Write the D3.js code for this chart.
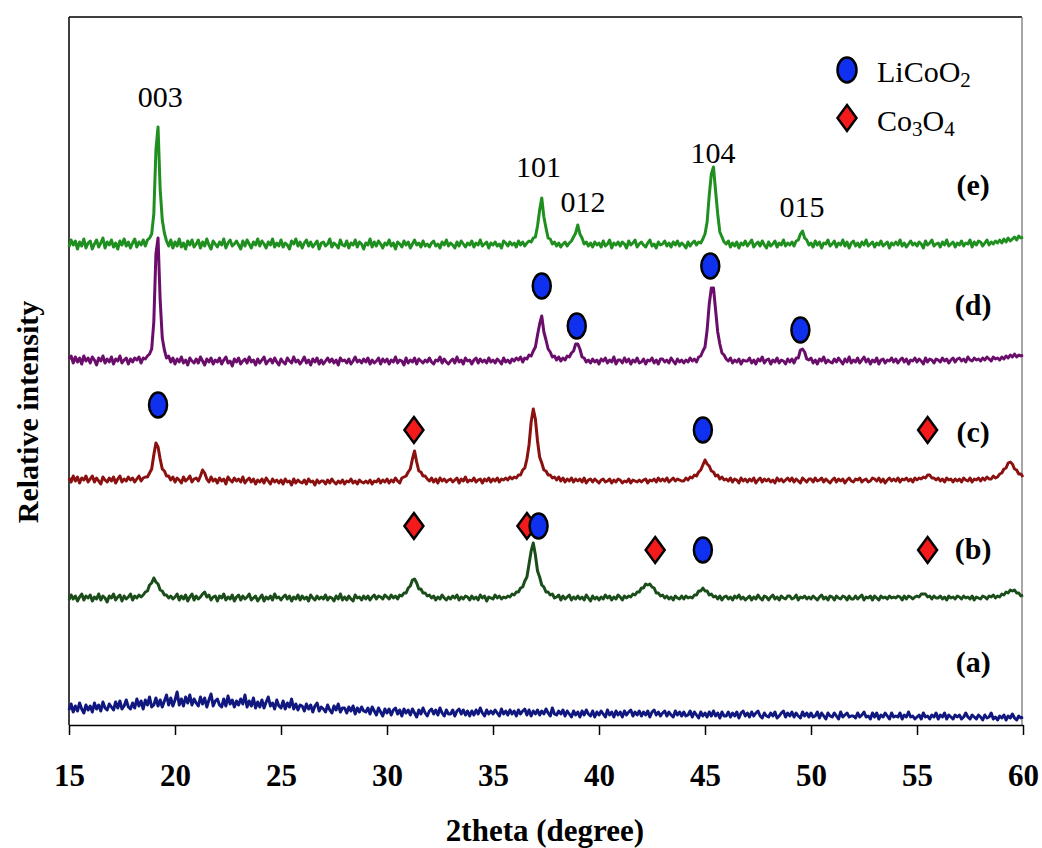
<!DOCTYPE html>
<html>
<head>
<meta charset="utf-8">
<script src="https://cdn.jsdelivr.net/npm/d3@7"></script>
<style>
  body { margin: 0; background: #fff; }
  text { font-family: "Times New Roman", "Liberation Serif", serif; fill: #000; }
</style>
</head>
<body>
<svg width="1042" height="848"></svg>
<script>
// 2theta grid of the scans: 15 to 60 deg, one reading every 0.1 deg
var thetaStart = 15, thetaStep = 0.1;
var xTicks = [15, 20, 25, 30, 35, 40, 45, 50, 55, 60];

// intensities, one row per degree
var sampleA = [
  15,21,13,19,14,22,16,12,20,15,
  19,13,22,16,20,14,23,17,15,21,
  18,15,23,17,24,16,19,25,18,16,
  22,17,26,19,24,16,25,20,28,18,
  20,27,19,25,18,24,30,20,27,19,
  25,33,20,26,19,28,22,30,20,26,
  22,19,28,21,27,18,25,31,19,24,
  26,20,18,26,19,29,21,25,18,24,
  20,26,21,30,18,24,19,27,17,23,
  18,25,17,23,28,19,22,16,25,19,
  17,24,16,22,18,26,16,21,15,20,
  19,14,21,16,20,13,19,22,14,18,
  16,13,20,15,12,19,15,21,13,17,
  17,12,18,14,19,11,17,13,18,14,
  13,17,11,18,14,10,17,13,9,16,
  12,16,10,15,17,11,15,9,16,12,
  15,10,16,12,8,15,11,17,12,9,
  14,16,11,15,10,17,12,9,15,11,
  11,15,9,14,16,11,15,10,14,9,
  14,10,15,11,17,12,9,15,11,14,
  11,15,12,9,16,11,14,10,15,11,
  14,9,15,11,14,16,10,15,9,14,
  11,15,10,14,11,16,12,9,17,11,
  10,14,11,15,9,14,11,8,14,10,
  13,8,14,10,15,11,9,14,8,13,
  10,14,11,8,15,10,13,8,14,10,
  13,8,14,10,13,15,9,13,10,14,
  9,13,10,14,8,13,15,10,13,9,
  12,14,9,13,10,8,14,10,13,9,
  13,9,10,14,8,13,10,7,13,9,
  12,8,13,9,14,9,12,7,13,9,
  9,13,8,12,9,13,7,12,14,9,
  12,8,13,9,12,14,9,7,12,9,
  8,12,9,13,7,9,12,14,8,12,
  9,13,8,12,9,7,13,9,12,8,
  12,8,9,13,7,12,9,6,12,9,
  8,12,9,6,13,8,10,12,8,9,
  9,7,12,8,10,13,8,9,6,12,
  8,12,6,10,8,12,9,6,12,8,
  9,8,12,6,10,8,13,8,9,6,
  8,10,6,12,8,9,6,10,8,12,
  6,10,8,12,6,10,8,6,10,8,
  10,6,8,12,8,6,10,8,6,10,
  8,5,10,7,8,12,6,8,5,9,
  7,10,5,9,7,11,7,5,9,7,
  8
];

var sampleB = [
  9,14,10,13,8,12,15,9,13,11,
  14,8,12,10,15,9,13,11,7,13,
  11,15,9,12,14,8,13,10,12,15,
  9,13,11,14,12,14,17,18,24,26,
  31,27,25,19,18,14,14,11,13,10,
  12,15,9,13,10,14,8,12,15,9,
  13,10,12,15,17,12,14,9,12,13,
  8,13,11,15,9,12,10,14,8,12,
  14,9,13,10,12,15,9,11,13,8,
  11,14,8,12,10,13,9,15,11,12,
  9,12,14,10,13,8,12,10,14,9,
  13,10,12,8,14,11,9,13,10,12,
  10,14,9,12,11,8,13,10,15,9,
  12,9,13,10,8,14,11,12,9,13,
  10,13,9,12,14,10,13,12,10,14,
  12,10,14,11,13,10,14,13,16,16,
  21,23,29,30,26,20,20,16,16,13,
  14,11,13,9,12,10,14,11,9,12,
  10,13,11,14,9,12,10,13,12,9,
  13,10,12,9,14,11,13,8,12,11,
  10,14,11,13,10,12,11,13,12,15,
  14,17,17,21,22,28,32,45,58,66,
  54,38,32,24,22,17,17,14,15,11,
  12,14,9,13,10,12,14,9,12,10,
  13,10,12,9,14,11,8,13,10,12,
  9,12,10,14,11,13,9,12,10,14,
  12,9,13,11,13,12,15,14,17,17,
  21,21,25,24,25,22,21,16,16,13,
  14,11,13,10,12,9,13,11,10,13,
  10,13,11,12,11,14,14,18,18,21,
  18,18,14,15,12,13,10,13,9,12,
  13,10,12,9,13,11,14,10,12,9,
  11,13,9,12,10,14,11,9,13,12,
  9,12,14,10,12,9,13,11,10,13,
  13,10,11,14,9,12,11,13,10,12,
  10,13,11,9,12,14,10,12,9,13,
  12,9,13,11,10,13,12,9,13,10,
  10,13,10,12,14,9,12,11,13,9,
  13,11,9,13,11,12,10,13,11,12,
  11,13,12,9,13,10,13,12,10,12,
  13,12,15,15,15,12,13,10,13,11,
  11,13,10,12,9,13,11,12,10,13,
  12,10,13,11,12,10,13,9,12,11,
  10,13,12,10,13,12,14,11,13,12,
  15,14,17,16,19,18,19,16,16,13,
  14
];

var sampleC = [
  13,9,15,10,14,8,13,11,15,9,
  12,15,9,13,10,7,14,11,9,13,
  10,14,8,12,15,9,12,10,14,11,
  13,9,12,15,10,13,14,14,18,22,
  36,48,44,32,22,20,15,15,11,14,
  9,13,11,8,14,10,12,15,9,12,
  13,10,15,21,18,12,9,14,10,12,
  8,13,10,12,7,14,11,9,13,10,
  12,9,14,8,11,13,9,12,7,11,
  9,12,8,13,10,7,12,9,11,8,
  11,7,12,9,10,6,12,8,11,9,
  8,11,7,12,9,10,6,11,8,10,
  10,7,11,8,12,9,7,10,8,11,
  7,10,9,12,8,10,7,11,9,8,
  10,8,11,7,10,9,12,8,11,9,
  12,8,11,9,13,10,8,13,14,15,
  19,22,32,40,29,20,19,15,15,12,
  10,13,9,12,8,13,10,12,9,11,
  12,9,11,13,8,12,10,14,9,11,
  10,13,9,11,12,8,12,10,13,9,
  12,10,13,9,12,11,13,11,14,12,
  14,13,16,16,21,23,32,46,69,82,
  72,50,34,28,21,20,16,16,13,14,
  11,14,10,13,9,12,10,13,9,12,
  10,12,9,13,8,11,12,9,12,10,
  8,11,12,9,10,12,8,11,9,12,
  11,8,10,9,12,8,11,10,9,11,
  9,11,12,8,11,10,12,9,13,10,
  12,10,13,9,11,13,10,12,11,10,
  10,13,11,14,13,16,15,19,21,26,
  31,27,25,20,19,15,16,12,14,11,
  12,10,13,9,12,11,8,13,10,12,
  9,12,10,13,8,11,13,9,12,10,
  12,9,11,8,13,10,12,9,11,13,
  10,13,9,12,10,8,13,11,9,12,
  12,9,13,10,11,13,9,12,10,8,
  11,13,9,12,10,12,8,11,13,10,
  9,12,11,13,9,11,12,9,10,13,
  12,10,13,9,12,8,11,13,10,12,
  10,13,9,12,11,13,10,12,9,13,
  11,13,12,14,13,16,16,13,13,11,
  13,10,12,9,13,11,12,9,12,10,
  12,9,13,11,10,13,9,12,11,13,
  10,13,11,14,12,12,15,13,14,17,
  18,22,23,28,29,27,22,21,17,17,
  14
];

var sampleD = [
  13,16,9,15,10,14,8,16,11,14,
  9,15,12,7,14,11,16,9,13,10,
  15,8,13,11,16,9,12,14,8,13,
  10,14,12,15,9,14,13,16,18,23,
  50,118,134,72,34,22,14,16,10,14,
  8,13,10,15,9,12,7,14,11,9,
  13,9,15,11,7,13,10,14,8,12,
  10,14,8,12,15,9,11,6,13,10,
  14,8,11,13,9,15,10,12,7,13,
  9,12,15,8,11,13,9,14,10,7,
  13,10,8,14,11,9,15,10,12,8,
  11,15,9,12,7,13,10,14,8,12,
  8,11,14,10,13,9,12,7,14,11,
  12,9,13,8,11,15,10,12,9,13,
  10,14,8,12,9,11,14,8,13,10,
  13,8,12,10,15,9,12,11,7,14,
  9,12,10,14,8,13,11,9,12,10,
  14,10,8,12,11,15,9,13,10,8,
  11,13,9,15,10,12,8,14,11,12,
  8,12,14,9,13,10,12,9,14,10,
  12,9,13,11,8,14,10,12,9,13,
  11,14,12,15,10,14,13,17,16,21,
  25,37,48,56,40,32,23,20,15,16,
  12,15,11,14,12,16,15,19,21,28,
  28,23,15,14,10,12,9,13,10,12,
  8,13,11,14,9,12,10,15,8,12,
  12,9,14,10,13,8,12,10,14,9,
  10,13,8,12,11,14,9,12,8,13,
  13,10,12,9,14,11,8,13,10,12,
  9,12,10,14,11,13,10,15,16,21,
  25,42,68,84,84,62,40,28,19,17,
  13,11,14,9,12,10,13,8,12,11,
  11,14,9,12,8,13,11,15,9,12,
  13,8,12,10,14,9,12,11,8,13,
  10,13,9,14,14,22,23,20,13,12,
  14,9,12,8,13,11,15,9,12,10,
  9,13,10,14,11,8,13,10,15,9,
  12,10,14,9,12,15,10,13,8,12,
  10,14,8,12,13,9,12,11,14,10,
  13,9,12,14,10,13,8,12,11,14,
  10,13,11,8,14,10,13,12,9,13,
  12,10,14,11,13,9,12,14,10,13,
  14,11,13,10,15,12,11,14,12,13,
  11,14,12,15,13,11,15,13,14,12,
  15,13,16,14,17,15,18,15,17,16,
  17
];

var sampleE = [
  8,15,10,14,6,13,9,16,7,12,
  14,6,11,15,8,12,17,7,13,10,
  15,8,12,6,14,10,16,9,13,7,
  12,16,8,13,10,15,9,15,17,21,
  41,105,128,66,35,22,14,9,15,7,
  13,9,16,8,12,6,14,10,15,8,
  11,15,7,13,9,16,10,6,14,11,
  8,13,10,16,7,12,15,9,11,14,
  10,6,14,9,15,11,7,13,10,16,
  9,14,11,7,13,10,16,8,12,9,
  15,8,12,10,6,14,11,16,9,13,
  7,12,15,9,13,8,11,14,6,12,
  13,9,11,16,8,12,10,7,15,10,
  9,14,7,12,10,15,8,13,11,6,
  12,10,16,8,13,9,14,11,7,12,
  10,15,9,12,6,13,11,8,14,10,
  13,7,11,15,10,12,8,14,9,11,
  8,12,14,9,11,7,13,10,15,9,
  12,10,7,13,9,14,11,8,12,10,
  14,8,12,10,15,9,11,13,7,12,
  10,13,9,11,7,14,12,9,13,10,
  12,8,14,10,13,9,12,14,13,17,
  18,29,45,57,38,27,17,16,11,13,
  9,12,8,11,13,9,12,14,18,22,
  30,21,17,11,13,9,12,8,13,10,
  12,8,14,9,11,15,7,12,10,13,
  9,13,11,7,14,10,12,15,8,11,
  13,10,8,12,15,9,11,7,13,10,
  11,14,9,12,8,13,10,14,9,12,
  10,7,13,9,12,14,10,13,12,16,
  21,33,60,81,88,64,41,23,18,13,
  11,14,8,12,9,13,7,12,10,14,
  9,12,15,8,11,13,9,14,10,7,
  13,9,11,14,8,12,10,15,9,12,
  10,13,9,14,15,21,24,17,15,10,
  12,8,14,10,13,7,12,11,15,9,
  11,14,8,12,10,15,9,13,7,12,
  14,9,12,8,13,10,15,9,11,13,
  8,12,10,14,9,11,13,7,12,10,
  13,10,15,9,12,8,11,14,10,12,
  9,13,11,7,14,10,12,15,9,11,
  12,8,13,10,15,9,11,13,8,12,
  10,14,9,12,11,15,8,13,10,14,
  13,9,12,15,10,13,11,14,12,15,
  12,16,13,17,14,16,18,15,19,17,
  18
];

var samples = [sampleA, sampleB, sampleC, sampleD, sampleE];
var sampleNames = ['(a)', '(b)', '(c)', '(d)', '(e)'];
var stackOffset = [0, 116, 234, 353, 470];
var sampleColors = ['#10187f', '#1a4d1a', '#8b1010', '#6b0d6b', '#1f8f1f'];
// where each (a)..(e) tag sits, in 2theta / intensity units
var nameAt = [[57.65, 53], [57.65, 166], [57.65, 283], [57.65, 410], [57.65, 530]];

// reflection indices written over pattern (e)
var hklText = ['003', '101', '012', '104', '015'];
var hklTheta = [19.3, 37.15, 39.25, 45.38, 49.58];
var hklLevel = [618, 548, 513, 562, 508];

// phase markers [2theta, level]
var licoo2Marks = [[19.2, 320], [44.9, 295], [37.15, 199], [44.9, 175],
                   [37.3, 439], [38.95, 399], [45.25, 459], [49.5, 395]];
var co3o4Marks = [[31.27, 295], [55.5, 295], [31.27, 199], [36.6, 199],
                  [42.65, 175], [55.5, 175]];

var svg = d3.select('svg');
var plotLeft = 69, plotRight = 1023, plotTop = 17, plotBottom = 725;

var x = d3.scaleLinear().domain([15, 60]).range([plotLeft, plotRight]);
var y = d3.scaleLinear().domain([0, 708]).range([plotBottom, plotTop]);

// frame
svg.append('line').attr('x1', plotLeft).attr('x2', plotRight - 1).attr('y1', plotTop).attr('y2', plotTop)
  .attr('stroke', '#000').attr('stroke-width', 1.5);
svg.append('line').attr('x1', plotLeft).attr('x2', plotLeft).attr('y1', plotTop).attr('y2', plotBottom)
  .attr('stroke', '#000').attr('stroke-width', 1.5);
svg.append('line').attr('x1', plotRight - 1).attr('x2', plotRight - 1).attr('y1', plotTop).attr('y2', plotBottom)
  .attr('stroke', '#888').attr('stroke-width', 1.5);

// curves
samples.forEach(function(values, k) {
  var line = d3.line()
    .x(function(d, i) { return x(thetaStart + i * thetaStep); })
    .y(function(d) { return y(d + stackOffset[k]); });
  svg.append('path')
    .datum(values)
    .attr('d', line)
    .attr('fill', 'none')
    .attr('stroke', sampleColors[k])
    .attr('stroke-width', 3)
    .attr('stroke-linejoin', 'round');
});

// x axis
var xAxis = svg.append('g')
  .attr('transform', 'translate(0,' + plotBottom + ')')
  .call(d3.axisBottom(x).tickValues(xTicks).tickFormat(d3.format('d'))
    .tickSize(10).tickSizeOuter(0).tickPadding(29));
xAxis.select('.domain').attr('stroke', '#000').attr('stroke-width', 1.5);
xAxis.selectAll('.tick line').attr('stroke', '#000').attr('stroke-width', 1.5);
xAxis.selectAll('.tick text')
  .attr('fill', '#000')
  .style('font-family', '"Times New Roman", "Liberation Serif", serif')
  .style('font-size', '31px')
  .style('font-weight', 'bold');

svg.append('text')
  .attr('x', 545).attr('y', 841)
  .attr('text-anchor', 'middle')
  .style('font-size', '31px').style('font-weight', 'bold')
  .text('2theta (degree)');

svg.append('text')
  .attr('transform', 'translate(38,412) rotate(-90)')
  .attr('text-anchor', 'middle')
  .style('font-size', '30px').style('font-weight', 'bold')
  .text('Relative intensity');

// hkl labels
svg.selectAll('.hkl')
  .data(hklText)
  .enter()
  .append('text')
  .attr('class', 'hkl')
  .attr('x', function(d, i) { return x(hklTheta[i]); })
  .attr('y', function(d, i) { return y(hklLevel[i]); })
  .attr('text-anchor', 'middle')
  .style('font-size', '30px')
  .text(function(d) { return d; });

// sample tags
svg.selectAll('.tag')
  .data(sampleNames)
  .enter()
  .append('text')
  .attr('class', 'tag')
  .attr('x', function(d, i) { return x(nameAt[i][0]); })
  .attr('y', function(d, i) { return y(nameAt[i][1]); })
  .attr('text-anchor', 'middle')
  .style('font-size', '30px').style('font-weight', 'bold')
  .text(function(d) { return d; });

function diamond(cx, cy) {
  return 'M' + cx + ',' + (cy - 13) + 'L' + (cx + 9.5) + ',' + cy +
    'L' + cx + ',' + (cy + 13) + 'L' + (cx - 9.5) + ',' + cy + 'Z';
}

svg.selectAll('.co3o4')
  .data(co3o4Marks)
  .enter()
  .append('path')
  .attr('class', 'co3o4')
  .attr('d', function(d) { return diamond(x(d[0]), y(d[1])); })
  .attr('fill', '#f21a1a').attr('stroke', '#000').attr('stroke-width', 2.5)
  .attr('stroke-linejoin', 'miter');

svg.selectAll('.licoo2')
  .data(licoo2Marks)
  .enter()
  .append('ellipse')
  .attr('class', 'licoo2')
  .attr('cx', function(d) { return x(d[0]); })
  .attr('cy', function(d) { return y(d[1]); })
  .attr('rx', 9).attr('ry', 12.5)
  .attr('fill', '#1030f0').attr('stroke', '#000').attr('stroke-width', 2.5);

// legend
svg.append('ellipse').attr('cx', 847).attr('cy', 70).attr('rx', 9.5).attr('ry', 12.5)
  .attr('fill', '#1030f0').attr('stroke', '#000').attr('stroke-width', 2.5);
svg.append('path').attr('d', diamond(847, 118))
  .attr('fill', '#f21a1a').attr('stroke', '#000').attr('stroke-width', 2.5);

var leg1 = svg.append('text').attr('x', 877).attr('y', 82).style('font-size', '30px');
leg1.append('tspan').text('LiCoO');
leg1.append('tspan').attr('dy', 5).style('font-size', '21px').text('2');

var leg2 = svg.append('text').attr('x', 877).attr('y', 131).style('font-size', '30px');
leg2.append('tspan').text('Co');
leg2.append('tspan').attr('dy', 5).style('font-size', '21px').text('3');
leg2.append('tspan').attr('dy', -5).text('O');
leg2.append('tspan').attr('dy', 5).style('font-size', '21px').text('4');
</script>
</body>
</html>
